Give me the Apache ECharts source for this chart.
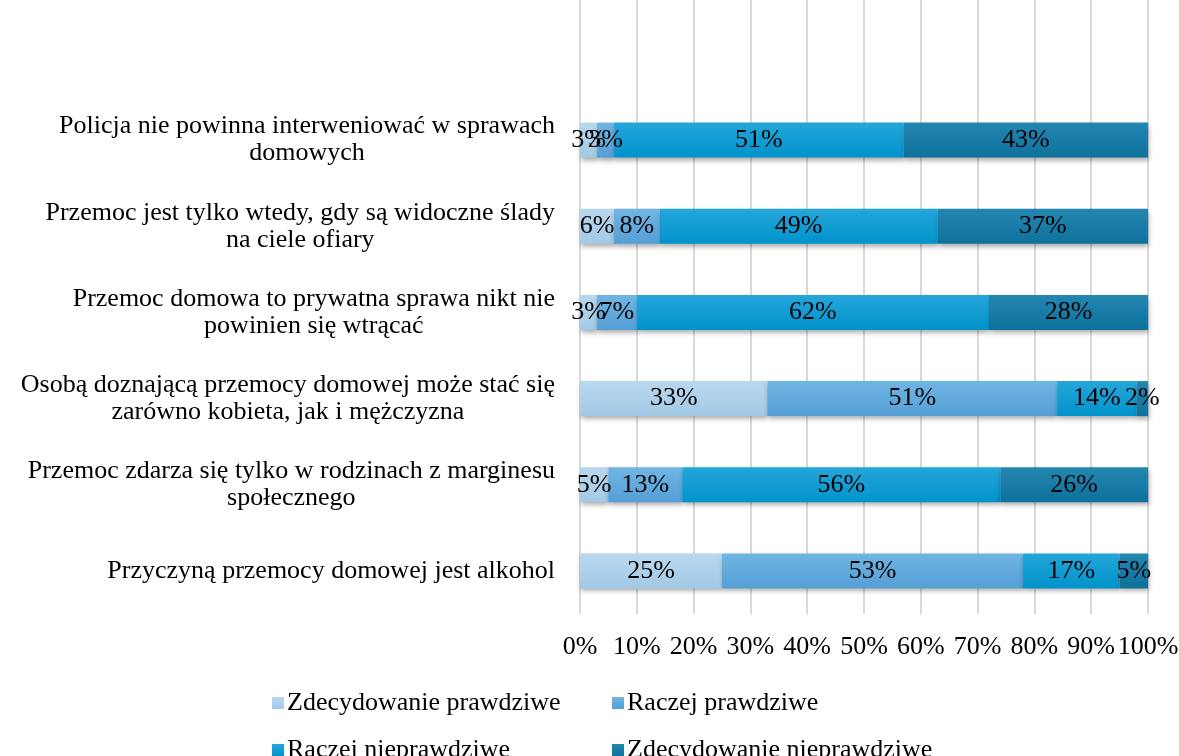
<!DOCTYPE html>
<html><head><meta charset="utf-8">
<script src="https://cdn.jsdelivr.net/npm/echarts@6/dist/echarts.min.js"></script>
<style>html,body{margin:0;padding:0;background:#fff}#c{width:1179px;height:756px}</style>
</head><body><div id="c"></div>
<script>
const categories = [
  "Policja nie powinna interweniować w sprawach\ndomowych",
  "Przemoc jest tylko wtedy, gdy są widoczne ślady\nna ciele ofiary",
  "Przemoc domowa to prywatna sprawa nikt nie\npowinien się wtrącać",
  "Osobą doznającą przemocy domowej może stać się\nzarówno kobieta, jak i mężczyzna",
  "Przemoc zdarza się tylko w rodzinach z marginesu\nspołecznego",
  "Przyczyną przemocy domowej jest alkohol"
];
const seriesNames = ["Zdecydowanie prawdziwe", "Raczej prawdziwe", "Raczej nieprawdziwe", "Zdecydowanie nieprawdziwe"];
const zdecPrawdziwe = [3, 6, 3, 33, 5, 25];
const raczejPrawdziwe = [3, 8, 7, 51, 13, 53];
const raczejNieprawdziwe = [51, 49, 62, 14, 56, 17];
const zdecNieprawdziwe = [43, 37, 28, 2, 26, 5];
const xTicks = [0, 10, 20, 30, 40, 50, 60, 70, 80, 90, 100];

const FONT = "'Liberation Serif', 'Times New Roman', serif";
const FS = 26;
function grad(top, bottom) {
  return new echarts.graphic.LinearGradient(0, 0, 0, 1, [{offset: 0, color: top}, {offset: 1, color: bottom}]);
}
const colors = [
  grad('#B9D8EE', '#A3C9E6'),
  grad('#70B5E3', '#559FD6'),
  grad('#25A6DA', '#0093CB'),
  grad('#2387B2', '#0E719C')
];
const values = [zdecPrawdziwe, raczejPrawdziwe, raczejNieprawdziwe, zdecNieprawdziwe];

const chart = echarts.init(document.getElementById('c'), null, {renderer: 'canvas'});
const gridL = 580, gridR = 31;
const series = values.map((v, i) => ({
  name: seriesNames[i],
  type: 'bar',
  stack: 'total',
  xAxisIndex: 0, yAxisIndex: 0,
  barWidth: 35,
  data: v,
  itemStyle: {
    color: colors[i],
    shadowBlur: 5, shadowOffsetY: 3, shadowOffsetX: 1, shadowColor: 'rgba(0,0,0,0.35)'
  },
  label: {
    show: true, position: 'inside', formatter: '{c}%',
    color: '#000', fontFamily: FONT, fontSize: FS
  }
}));

const legendPos = [[267, 685], [607, 685], [267, 732], [607, 732]];
const legends = seriesNames.map((n, i) => ({
  data: [{name: n, icon: 'rect', itemStyle: {color: colors[i]}}],
  left: legendPos[i][0], top: legendPos[i][1],
  itemWidth: 12, itemHeight: 12, itemGap: 0,
  textStyle: {fontFamily: FONT, fontSize: FS, color: '#000', padding: [0, 0, 0, -2]},
  selectedMode: false
}));

chart.setOption({
  animation: false,
  backgroundColor: '#fff',
  legend: legends,
  grid: [
    {left: gridL, right: gridR, top: 97, bottom: 142, containLabel: false, outerBoundsMode: 'none'},
    {left: gridL, right: gridR, top: 0, height: 97, containLabel: false, outerBoundsMode: 'none'}
  ],
  xAxis: [
    {
      gridIndex: 0, type: 'value', min: 0, max: 100, interval: 10,
      axisLine: {show: false}, axisTick: {show: false},
      splitLine: {show: true, lineStyle: {color: '#D9D9D9', width: 2}},
      axisLabel: {formatter: '{value}%', fontFamily: FONT, fontSize: FS, color: '#000', margin: 20}
    },
    {
      gridIndex: 1, type: 'value', min: 0, max: 100, interval: 10,
      axisLine: {show: false}, axisTick: {show: false}, axisLabel: {show: false},
      splitLine: {show: true, lineStyle: {color: '#D9D9D9', width: 2}}
    }
  ],
  yAxis: [
    {
      gridIndex: 0, type: 'category', data: categories, inverse: true,
      axisLine: {show: false}, axisTick: {show: false},
      axisLabel: {
        fontFamily: FONT, fontSize: FS, color: '#000', margin: 25, lineHeight: 27,
        formatter: function (val) {
          return val.split('\n').map(l => '{c|' + l + '}').join('\n');
        },
        rich: {c: {align: 'center', fontFamily: FONT, fontSize: FS, color: '#000', lineHeight: 27}}
      }
    },
    {gridIndex: 1, type: 'category', data: [''], show: false}
  ],
  series: series
});
</script></body></html>
